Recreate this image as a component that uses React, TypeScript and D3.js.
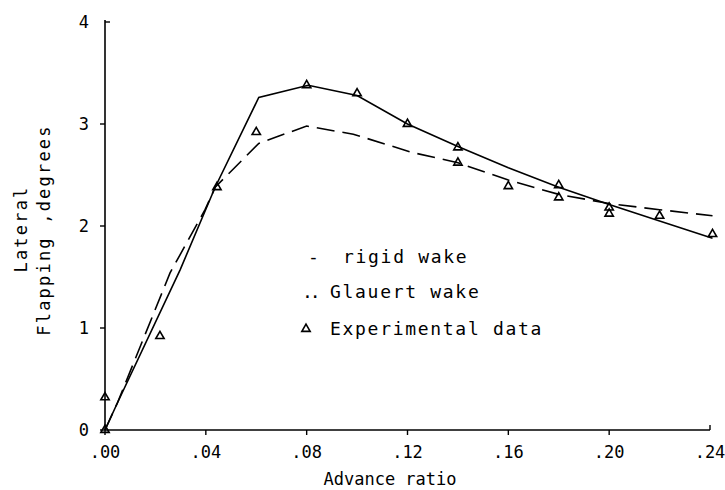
import React from "react";
import * as d3 from "d3";

const W = 725;
const H = 490;

const xTicks = [0, 0.04, 0.08, 0.12, 0.16, 0.2, 0.24];
const xTickLabels = [".00", ".04", ".08", ".12", ".16", ".20", ".24"];
const yTicks = [0, 1, 2, 3, 4];
const yTickLabels = ["0", "1", "2", "3", "4"];

// solid curve
const solidMu = [0, 0.005, 0.0298, 0.0437, 0.061, 0.0806, 0.1, 0.12, 0.14, 0.16, 0.18, 0.2, 0.22, 0.241];
const solidVal = [0, 0.27, 1.57, 2.38, 3.26, 3.38, 3.28, 3.0, 2.78, 2.57, 2.38, 2.21, 2.05, 1.88];

// dashed curve
const dashMu = [0, 0.005, 0.0258, 0.0397, 0.0437, 0.061, 0.08, 0.0985, 0.122, 0.14, 0.16, 0.18, 0.2, 0.22, 0.241];
const dashVal = [0, 0.27, 1.54, 2.16, 2.38, 2.81, 2.98, 2.9, 2.72, 2.62, 2.45, 2.31, 2.22, 2.16, 2.1];

// experimental data
const expMu = [0, 0, 0.0218, 0.0444, 0.06, 0.08, 0.1, 0.12, 0.14, 0.14, 0.16, 0.18, 0.18, 0.2, 0.2, 0.22, 0.241];
const expVal = [0, 0.32, 0.92, 2.38, 2.92, 3.38, 3.3, 3.0, 2.77, 2.62, 2.39, 2.4, 2.28, 2.18, 2.12, 2.1, 1.92];

const FONT = "'DejaVu Sans Mono', monospace";

export default function App() {
  const x = d3.scaleLinear().domain([0, 0.24]).range([105, 710]);
  const y = d3.scaleLinear().domain([0, 4]).range([430, 22]);

  const line = d3
    .line<[number, number]>()
    .x((d) => x(d[0]))
    .y((d) => y(d[1]));

  const solidPts = solidMu.map((m, i) => [m, solidVal[i]] as [number, number]);
  const dashPts = dashMu.map((m, i) => [m, dashVal[i]] as [number, number]);
  const tri = d3.symbol().type(d3.symbolTriangle).size(30)();

  return (
    <svg
      width={W}
      height={H}
      style={{ position: "absolute", left: 0, top: 0, background: "#fff" }}
    >
      {/* axes */}
      <line x1={x(0)} y1={y(0)} x2={x(0.24)} y2={y(0)} stroke="#000" strokeWidth={1.6} />
      <line x1={x(0)} y1={y(0)} x2={x(0)} y2={y(4) - 2} stroke="#000" strokeWidth={1.6} />
      {xTicks.map((t, i) => (
        <g key={"xt" + i}>
          <line
            x1={x(t)}
            x2={x(t)}
            y1={y(0)}
            y2={i === xTicks.length - 1 ? y(0) - 5 : y(0) + 5}
            stroke="#000"
            strokeWidth={1.4}
          />
          <text
            x={x(t)}
            y={458}
            textAnchor="middle"
            fontFamily={FONT}
            fontSize={17}
            fill="#000"
          >
            {xTickLabels[i]}
          </text>
        </g>
      ))}
      {yTicks.map((t, i) => (
        <g key={"yt" + i}>
          <line
            x1={x(0)}
            x2={i === yTicks.length - 1 ? x(0) + 5 : x(0) - 5}
            y1={y(t)}
            y2={y(t)}
            stroke="#000"
            strokeWidth={1.4}
          />
          <text
            x={89}
            y={y(t) + 6}
            textAnchor="end"
            fontFamily={FONT}
            fontSize={17}
            fill="#000"
          >
            {yTickLabels[i]}
          </text>
        </g>
      ))}

      {/* curves */}
      <path d={line(solidPts) || ""} fill="none" stroke="#000" strokeWidth={1.6} />
      <path
        d={line(dashPts) || ""}
        fill="none"
        stroke="#000"
        strokeWidth={1.6}
        strokeDasharray="18,8"
      />

      {/* experimental points */}
      {expMu.map((m, i) => (
        <path
          key={"p" + i}
          d={tri || ""}
          transform={`translate(${x(m)},${y(expVal[i])})`}
          fill="none"
          stroke="#000"
          strokeWidth={1.6}
        />
      ))}

      {/* legend */}
      <text x={308} y={263} fontFamily={FONT} fontSize={18} fill="#000">-</text>
      <text x={343} y={263} fontFamily={FONT} fontSize={18} letterSpacing={1.7} fill="#000">
        rigid wake
      </text>
      <text x={302} y={298} fontFamily={FONT} fontSize={18} letterSpacing={-3} fill="#000">..</text>
      <text x={330} y={298} fontFamily={FONT} fontSize={18} letterSpacing={1.7} fill="#000">
        Glauert wake
      </text>
      <path d={tri || ""} transform={`translate(306,329)`} fill="none" stroke="#000" strokeWidth={1.6} />
      <text x={330} y={335} fontFamily={FONT} fontSize={18} letterSpacing={1.7} fill="#000">
        Experimental data
      </text>

      {/* axis titles */}
      <text
        x={390}
        y={485}
        textAnchor="middle"
        fontFamily={FONT}
        fontSize={17}
        fill="#000"
      >
        Advance ratio
      </text>
      <text
        transform="translate(27,229) rotate(-90)"
        textAnchor="middle"
        fontFamily={FONT}
        fontSize={17}
        letterSpacing={2.2}
        fill="#000"
      >
        Lateral
      </text>
      <text
        transform="translate(50,230) rotate(-90)"
        textAnchor="middle"
        fontFamily={FONT}
        fontSize={17}
        letterSpacing={2.2}
        fill="#000"
      >
        Flapping ,degrees
      </text>
    </svg>
  );
}
